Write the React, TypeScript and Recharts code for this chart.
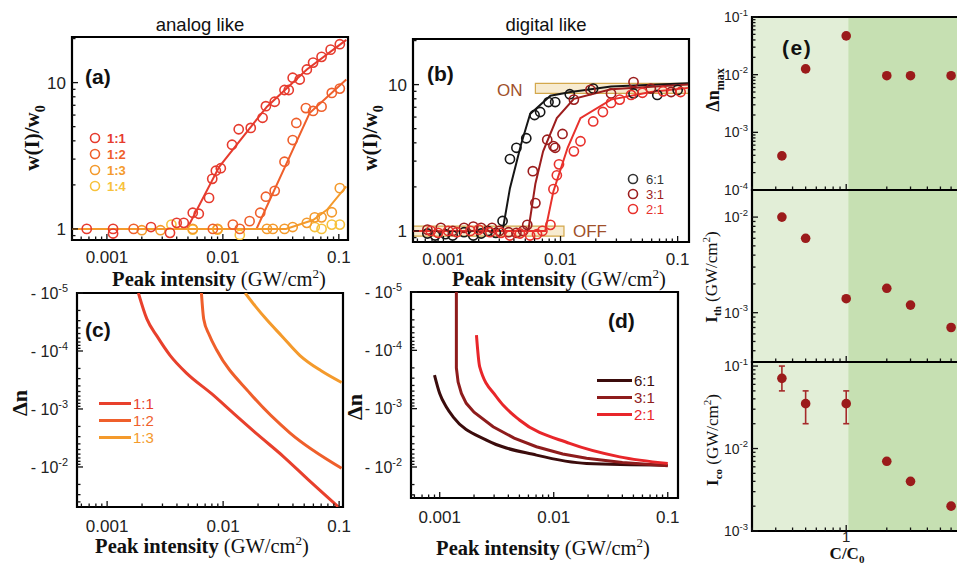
import React from "react";
import { ComposedChart, Line, Scatter, XAxis, YAxis, ReferenceArea, ErrorBar } from "recharts";

const SANS = "'Liberation Sans', Arial, Helvetica, sans-serif";
const SERIF = "'Liberation Serif', 'Times New Roman', serif";

// ---------- (a) analog like : w(I)/w0, open circles = measured, lines = fits
const a11Pts = [
  [0.00067, 1.0], [0.00113, 1.0], [0.00113, 0.93], [0.0024, 1.03], [0.0035, 0.94], [0.004, 1.1],
  [0.0046, 1.1], [0.0055, 1.29], [0.0062, 1.27], [0.0076, 1.63], [0.0081, 2.2], [0.0087, 2.5],
  [0.0096, 2.6], [0.012, 3.76], [0.0137, 4.8], [0.0174, 4.9], [0.022, 5.75], [0.0235, 6.9],
  [0.028, 7.4], [0.034, 8.9], [0.037, 8.9], [0.04, 10.8], [0.046, 10.5], [0.053, 12.3],
  [0.06, 13.7], [0.071, 15], [0.085, 16.8], [0.102, 18.3],
];
const a12Pts = [
  [0.0017, 1.0], [0.0082, 1.0], [0.0122, 1.07], [0.014, 1.0], [0.017, 1.13], [0.021, 1.29],
  [0.0235, 1.66], [0.028, 1.82], [0.034, 2.88], [0.04, 4.05], [0.043, 5.3], [0.052, 6.7],
  [0.06, 6.4], [0.071, 6.85], [0.087, 8.5], [0.102, 9.1],
];
const a13Pts = [
  [0.002, 0.98], [0.0029, 0.98], [0.0055, 1.0], [0.009, 1.0], [0.024, 1.0], [0.027, 1.0],
  [0.034, 1.0], [0.04, 1.03], [0.053, 1.1], [0.062, 1.2], [0.071, 1.2], [0.087, 1.3], [0.102, 1.9],
];
const a14Pts = [
  [0.0036, 1.07], [0.0055, 0.99], [0.009, 0.99], [0.014, 0.91], [0.062, 1.03], [0.071, 1.0],
  [0.087, 1.07], [0.102, 1.07],
];
const a11Fit = [[0.0005, 1], [0.0049, 1], [0.0093, 2.66], [0.024, 6.85], [0.053, 12.3], [0.116, 19.6]];
const a12Fit = [[0.0005, 1], [0.0195, 1], [0.056, 6.2], [0.116, 10.5]];
const a13Fit = [[0.0005, 1], [0.035, 1], [0.06, 1.15], [0.079, 1.35], [0.116, 1.95]];

// ---------- (b) digital like
const b61Pts = [
  [0.00073, 0.96], [0.00085, 0.93], [0.00104, 0.95], [0.0012, 0.93], [0.0015, 0.98], [0.0018, 0.93],
  [0.0021, 0.96], [0.0024, 1.0], [0.0028, 0.97], [0.0032, 1.17], [0.0037, 3.1], [0.0042, 3.7],
  [0.0051, 4.3], [0.006, 6.2], [0.0067, 6.5], [0.0079, 7.6], [0.009, 7.6], [0.012, 8.6],
  [0.019, 9.4], [0.042, 8.7], [0.067, 8.5], [0.1, 9.2],
];
const b31Pts = [
  [0.00073, 1.02], [0.00095, 1.05], [0.0012, 1.0], [0.0015, 1.05], [0.0018, 1.07], [0.0021, 1.05],
  [0.0026, 1.05], [0.003, 1.0], [0.0036, 0.98], [0.0042, 0.97], [0.0048, 1.0], [0.0052, 1.1],
  [0.0058, 2.56], [0.0061, 1.55], [0.0077, 4.2], [0.0087, 3.8], [0.009, 3.7], [0.0104, 4.6],
  [0.013, 7.9], [0.018, 9.2], [0.027, 8.7], [0.042, 10.4], [0.059, 9.4], [0.088, 8.9],
];
const b21Pts = [
  [0.00078, 1.0], [0.0009, 0.97], [0.0011, 1.0], [0.0013, 0.98], [0.0017, 1.0], [0.002, 1.02],
  [0.0025, 0.98], [0.0031, 0.97], [0.0037, 0.93], [0.0045, 0.96], [0.0055, 0.93], [0.0063, 0.95],
  [0.007, 1.0], [0.0082, 1.1], [0.0087, 1.93], [0.0093, 2.4], [0.0097, 2.85], [0.013, 3.5],
  [0.0148, 4.1], [0.019, 5.6], [0.023, 6.5], [0.027, 7.5], [0.032, 7.9], [0.04, 8.5],
  [0.05, 8.8], [0.075, 9.0], [0.106, 8.9],
];
const b61Fit = [[0.00055, 1], [0.0032, 1], [0.0037, 1.96], [0.0046, 3.9], [0.0055, 6.3], [0.0082, 8.4], [0.0122, 8.9], [0.027, 9.7], [0.123, 10.2]];
const b31Fit = [[0.00055, 1], [0.0053, 1], [0.0061, 2.1], [0.0071, 3.5], [0.0093, 5.9], [0.013, 8.0], [0.027, 9.3], [0.123, 10]];
const b21Fit = [[0.00055, 1], [0.0074, 1], [0.0087, 1.87], [0.0115, 3.7], [0.0148, 5.9], [0.027, 7.9], [0.059, 8.9], [0.123, 9.5]];
const onBox = { i: [0.0061, 0.125], w: [8.7, 10.2] };
const offBox = { i: [0.00055, 0.0107], w: [0.92, 1.08] };

// ---------- (c) analog like : -Δn
const c11 = [[0.00186, 1e-5], [0.0022, 2.8e-5], [0.0027, 5.6e-5], [0.0035, 1.2e-4], [0.00486, 2.43e-4], [0.008, 5.5e-4], [0.0123, 1.19e-3], [0.02, 2.8e-3], [0.0331, 6.6e-3], [0.055, 0.017], [0.1, 0.05]];
const c12 = [[0.0065, 1e-5], [0.0068, 2.8e-5], [0.0076, 5.3e-5], [0.0088, 9.6e-5], [0.0171, 5.4e-4], [0.0378, 2.6e-3], [0.105, 0.0105]];
const c13 = [[0.0155, 1e-5], [0.019, 1.7e-5], [0.0238, 2.9e-5], [0.032, 5.5e-5], [0.046, 1.2e-4], [0.07, 2.2e-4], [0.105, 3.5e-4]];

// ---------- (d) digital like : -Δn
const d61 = [[0.0009, 2.65e-4], [0.001, 5.5e-4], [0.00114, 9.3e-4], [0.00131, 1.38e-3], [0.00257, 3.47e-3], [0.00705, 6.25e-3], [0.0194, 8.7e-3], [0.1, 9.3e-3]];
const d31 = [[0.0014, 1e-5], [0.0014, 2e-4], [0.00145, 3.5e-4], [0.00155, 5.5e-4], [0.00171, 8.1e-4], [0.002, 1.15e-3], [0.00294, 2.04e-3], [0.0045, 3.2e-3], [0.00705, 4.5e-3], [0.012, 6e-3], [0.0194, 7.1e-3], [0.04, 8.4e-3], [0.1, 9.5e-3]];
const d21 = [[0.0021, 5.5e-5], [0.00224, 1.9e-4], [0.00314, 6.25e-4], [0.00504, 1.58e-3], [0.0138, 3.94e-3], [0.0379, 6.7e-3], [0.1, 8.7e-3]];

// ---------- (e) versus C/C0
const ratios = [1 / 3, 1 / 2, 1, 2, 3, 6];
const dnMax = [3.9e-4, 0.0126, 0.047, 0.0096, 0.0096, 0.0096];
const iTh = [0.01, 0.006, 0.0014, 0.0018, 0.0012, 0.0007];
const iCo = [0.071, 0.035, 0.035, 0.007, 0.004, 0.002];
const iCoLow = [0.05, 0.02, 0.02];
const iCoHigh = [0.1, 0.05, 0.05];
const eTickLabels = [1];

const pts = (a: number[][]) => a.map(([x, y]) => ({ x, y }));

const logTicks = (lo: number, hi: number) => {
  const out: number[] = [];
  for (let e = Math.floor(Math.log10(lo)); e <= Math.ceil(Math.log10(hi)); e++)
    for (let k = 1; k < 10; k++) {
      const v = +(k * Math.pow(10, e)).toPrecision(6);
      if (v >= lo * 0.9999 && v <= hi * 1.0001) out.push(v);
    }
  return out;
};
const isDecade = (v: number) => Math.abs(Math.log10(v) - Math.round(Math.log10(v))) < 1e-6;

const fmtDec = (v: number) => String(v);
const fmtOnly = (list: number[]) => (v: number) => (list.includes(v) ? String(v) : null);
const fmtPow = (prefix: string, fs: number) => (v: number) => (
  <>
    {prefix}10<tspan dy={-fs * 0.45} fontSize={fs * 0.68}>{Math.round(Math.log10(v))}</tspan>
  </>
);

const makeTick = (side: "bottom" | "left", fmt: ((v: number) => React.ReactNode) | null, fs: number, gap: number) =>
  (props: any) => {
    const { x, y, payload } = props;
    const v = Number(payload.value);
    const major = isDecade(v);
    const len = major ? 6 : 3.5;
    const label = major && fmt ? fmt(v) : null;
    if (side === "bottom") {
      return (
        <g>
          <line x1={x} x2={x} y1={y} y2={y - len} stroke="#111" strokeWidth={1.3} />
          {label !== null && (
            <text x={x} y={y + gap} textAnchor="middle" fontSize={fs} fontFamily={SANS} fill="#222">{label}</text>
          )}
        </g>
      );
    }
    return (
      <g>
        <line x1={x} x2={x + len} y1={y} y2={y} stroke="#111" strokeWidth={1.3} />
        {label !== null && (
          <text x={x - gap} y={y} dy="0.36em" textAnchor="end" fontSize={fs} fontFamily={SANS} fill="#222">{label}</text>
        )}
      </g>
    );
  };

const ring = (c: string, r = 4.6) => (p: any) => (
  <circle cx={p.cx} cy={p.cy} r={r} fill="none" stroke={c} strokeWidth={1.6} />
);
const dot = (c: string, r = 4.8) => (p: any) => <circle cx={p.cx} cy={p.cy} r={r} fill={c} />;

const axisCommon = {
  type: "number" as const,
  scale: "log" as const,
  allowDataOverflow: true,
  interval: 0 as const,
  tickSize: 0,
  tickMargin: 0,
  axisLine: false,
  tickLine: false,
};

const Txt = ({ x, y, rot, style, children }: any) => (
  <div
    style={{
      position: "absolute", left: x, top: y, whiteSpace: "nowrap", lineHeight: 1,
      transform: `translate(-50%, -50%)${rot ? " rotate(-90deg)" : ""}`, ...style,
    }}
  >
    {children}
  </div>
);

const PeakLabel = ({ x, y }: { x: number; y: number }) => (
  <Txt x={x} y={y} style={{ fontFamily: SERIF, fontSize: 20.5, color: "#111" }}>
    <b>Peak intensity</b> (GW/cm<sup style={{ fontSize: 13 }}>2</sup>)
  </Txt>
);

const C = {
  a11: "#e63b2e", a12: "#ef5f2b", a13: "#f49a2c", a14: "#f7c23b",
  b61: "#161616", b31: "#9c1d1d", b21: "#e8312c",
  d61: "#3b0c0c", d31: "#8e1c1c", d21: "#e8262a",
  e: "#9b1b1b", eBar: "#a52a2a", lightG: "#e2eed7", darkG: "#c6e0b2", brown: "#a0502a",
};

const A_X = [0.0005, 0.12], A_Y = [0.84, 20.5];
const B_X = [0.00055, 0.125], B_Y = [0.84, 20.5];
const C_X = [0.00055, 0.108], C_Y = [1e-5, 0.049];
const D_X = [0.00056, 0.123], D_Y = [1e-5, 0.034];
const E_X = [0.2, 10];

const Frame = ({ x, y }: { x: number[]; y: number[] }) => (
  <ReferenceArea x1={x[0]} x2={x[1]} y1={y[0]} y2={y[1]} fill="none" stroke="#000" strokeWidth={2.2} ifOverflow="visible" />
);

function WPanel({ left, xd, yd, yW, margin, children }: any) {
  return (
    <div style={{ position: "absolute", left, top: 0 }}>
      <ComposedChart width={350 + (left === 0 ? 10 : 0)} height={290} margin={margin}>
        <XAxis dataKey="x" {...axisCommon} domain={xd} ticks={logTicks(xd[0], xd[1])} height={30}
          tick={makeTick("bottom", fmtDec, 17, 23)} />
        <YAxis dataKey="y" {...axisCommon} domain={yd} ticks={logTicks(yd[0], yd[1])} width={yW}
          tick={makeTick("left", fmtDec, 17, 6)} />
        {children}
        <Frame x={xd} y={yd} />
      </ComposedChart>
    </div>
  );
}

function DnPanel({ left, width, xd, yd, yW, margin, children }: any) {
  return (
    <div style={{ position: "absolute", left, top: 270 }}>
      <ComposedChart width={width} height={295} margin={margin}>
        <XAxis dataKey="x" {...axisCommon} domain={xd} ticks={logTicks(xd[0], xd[1])} height={30}
          tick={makeTick("bottom", fmtDec, 17, 25)} />
        <YAxis dataKey="y" {...axisCommon} reversed domain={yd} ticks={logTicks(yd[0], yd[1])} width={yW}
          tick={makeTick("left", fmtPow("- ", 16), 16, 9)} />
        {children}
        <Frame x={xd} y={yd} />
      </ComposedChart>
    </div>
  );
}

function EPanel({ top, height, margin, yd, xH, showX, children }: any) {
  return (
    <div style={{ position: "absolute", left: 690, top }}>
      <ComposedChart width={301} height={height} margin={margin}>
        <ReferenceArea x1={E_X[0]} x2={1.035} y1={yd[0]} y2={yd[1]} fill={C.lightG} fillOpacity={1} stroke="none" />
        <ReferenceArea x1={1.035} x2={E_X[1]} y1={yd[0]} y2={yd[1]} fill={C.darkG} fillOpacity={1} stroke="none" />
        <XAxis dataKey="x" {...axisCommon} domain={E_X} ticks={logTicks(E_X[0], E_X[1])} height={xH}
          tick={makeTick("bottom", showX ? fmtOnly(eTickLabels) : null, 15, 11)} />
        <YAxis dataKey="y" {...axisCommon} domain={yd} ticks={logTicks(yd[0], yd[1])} width={62}
          tick={makeTick("left", fmtPow("", 14), 14, 4)} />
        {children}
        <Frame x={E_X} y={yd} />
      </ComposedChart>
    </div>
  );
}

const RingLegend = ({ items, x, bold, fs }: any) => (
  <>
    {items.map((it: any) => (
      <div key={it.t} style={{ position: "absolute", left: x - 6, top: it.y - 6, display: "flex", alignItems: "center", height: 12, lineHeight: 1 }}>
        <svg width={12} height={12} style={{ overflow: "visible" }}>
          <circle cx={6} cy={6} r={4.5} fill="none" stroke={it.c} strokeWidth={1.6} />
        </svg>
        <span style={{ marginLeft: bold ? 6 : 7, fontFamily: SANS, fontSize: fs, lineHeight: 1, fontWeight: bold ? 700 : 400, color: it.c }}>{it.t}</span>
      </div>
    ))}
  </>
);

const LineLegend = ({ items, x, w }: any) => (
  <>
    {items.map((it: any) => (
      <div key={it.t} style={{ position: "absolute", left: x, top: it.y - 7, display: "flex", alignItems: "center", height: 14, lineHeight: 1 }}>
        <div style={{ width: w, height: 3, background: it.c }} />
        <span style={{ marginLeft: 2, fontFamily: SANS, fontSize: 15, lineHeight: 1, color: it.c }}>{it.t}</span>
      </div>
    ))}
  </>
);

export default function App() {
  const eTop = ratios.map((r, i) => ({ x: r, y: dnMax[i] }));
  const eMid = ratios.map((r, i) => ({ x: r, y: iTh[i] }));
  const eBotErr = iCoLow.map((lo, i) => ({ x: ratios[i], y: iCo[i], err: [iCo[i] - lo, iCoHigh[i] - iCo[i]] }));
  const eBot = ratios.slice(iCoLow.length).map((r, i) => ({ x: r, y: iCo[i + iCoLow.length] }));
  const panelLabel = { fontFamily: SANS, fontSize: 21, fontWeight: 700, color: "#111" };

  return (
    <div style={{ position: "absolute", left: 0, top: 0, width: 957, height: 565, overflow: "hidden", background: "#fff" }}>
      <style>{"svg{overflow:visible}"}</style>

      {/* (a) */}
      <WPanel left={0} xd={A_X} yd={A_Y} yW={62} margin={{ top: 37, right: 12, bottom: 20, left: 10 }}>
        <Line data={pts(a11Fit)} dataKey="y" type="linear" stroke={C.a11} strokeWidth={2} dot={false} isAnimationActive={false} />
        <Line data={pts(a12Fit)} dataKey="y" type="linear" stroke={C.a12} strokeWidth={2} dot={false} isAnimationActive={false} />
        <Line data={pts(a13Fit)} dataKey="y" type="linear" stroke={C.a13} strokeWidth={2} dot={false} isAnimationActive={false} />
        <Scatter data={pts(a14Pts)} dataKey="y" shape={ring(C.a14)} isAnimationActive={false} />
        <Scatter data={pts(a13Pts)} dataKey="y" shape={ring(C.a13)} isAnimationActive={false} />
        <Scatter data={pts(a12Pts)} dataKey="y" shape={ring(C.a12)} isAnimationActive={false} />
        <Scatter data={pts(a11Pts)} dataKey="y" shape={ring(C.a11)} isAnimationActive={false} />
      </WPanel>

      {/* (b) */}
      <WPanel left={350} xd={B_X} yd={B_Y} yW={63} margin={{ top: 39, right: 11, bottom: 18, left: 0 }}>
        <ReferenceArea x1={onBox.i[0]} x2={onBox.i[1]} y1={onBox.w[0]} y2={onBox.w[1]} fill="#f2deb0" fillOpacity={0.6} stroke="#d3a84c" strokeWidth={1.2} ifOverflow="hidden" />
        <ReferenceArea x1={offBox.i[0]} x2={offBox.i[1]} y1={offBox.w[0]} y2={offBox.w[1]} fill="#f2deb0" fillOpacity={0.6} stroke="#d3a84c" strokeWidth={1.2} ifOverflow="hidden" />
        <Scatter data={pts(b61Pts)} dataKey="y" shape={ring(C.b61)} isAnimationActive={false} />
        <Scatter data={pts(b31Pts)} dataKey="y" shape={ring(C.b31)} isAnimationActive={false} />
        <Scatter data={pts(b21Pts)} dataKey="y" shape={ring(C.b21)} isAnimationActive={false} />
        <Line data={pts(b61Fit)} dataKey="y" type="linear" stroke={C.b61} strokeWidth={2} dot={false} isAnimationActive={false} />
        <Line data={pts(b31Fit)} dataKey="y" type="linear" stroke={C.b31} strokeWidth={2} dot={false} isAnimationActive={false} />
        <Line data={pts(b21Fit)} dataKey="y" type="linear" stroke={C.b21} strokeWidth={2} dot={false} isAnimationActive={false} />
      </WPanel>

      {/* (c) */}
      <DnPanel left={0} width={355} xd={C_X} yd={C_Y} yW={67} margin={{ top: 23, right: 12, bottom: 28, left: 10 }}>
        <Line data={pts(c11)} dataKey="y" type="monotone" stroke="#e8402c" strokeWidth={3} dot={false} isAnimationActive={false} />
        <Line data={pts(c12)} dataKey="y" type="monotone" stroke={C.a12} strokeWidth={3} dot={false} isAnimationActive={false} />
        <Line data={pts(c13)} dataKey="y" type="monotone" stroke={C.a13} strokeWidth={3} dot={false} isAnimationActive={false} />
      </DnPanel>

      {/* (d) */}
      <DnPanel left={350} width={340} xd={D_X} yd={D_Y} yW={61} margin={{ top: 22, right: 12, bottom: 37, left: 0 }}>
        <Line data={pts(d61)} dataKey="y" type="monotone" stroke={C.d61} strokeWidth={3} dot={false} isAnimationActive={false} />
        <Line data={pts(d31)} dataKey="y" type="linear" stroke={C.d31} strokeWidth={3} dot={false} isAnimationActive={false} />
        <Line data={pts(d21)} dataKey="y" type="monotone" stroke={C.d21} strokeWidth={3} dot={false} isAnimationActive={false} />
      </DnPanel>

      {/* (e) */}
      <EPanel top={0} height={195} margin={{ top: 17, right: 10, bottom: 4, left: 0 }} yd={[1e-4, 0.1]} xH={1}>
        <Scatter data={eTop} dataKey="y" shape={dot(C.e)} isAnimationActive={false} />
      </EPanel>
      <EPanel top={185} height={185} margin={{ top: 5, right: 10, bottom: 7, left: 0 }} yd={[3.05e-4, 0.0192]} xH={1}>
        <Scatter data={eMid} dataKey="y" shape={dot(C.e)} isAnimationActive={false} />
      </EPanel>
      <EPanel top={355} height={210} margin={{ top: 7, right: 10, bottom: 14, left: 0 }} yd={[0.001, 0.112]} xH={20} showX>
        <Scatter data={eBotErr} dataKey="y" shape={dot(C.e)} isAnimationActive={false}>
          <ErrorBar dataKey="err" direction="y" width={3} strokeWidth={1.6} stroke={C.eBar} />
        </Scatter>
        <Scatter data={eBot} dataKey="y" shape={dot(C.e)} isAnimationActive={false} />
      </EPanel>

      {/* titles and axis labels */}
      <Txt x={200} y={25} style={{ fontFamily: SANS, fontSize: 18.5, color: "#111" }}>analog like</Txt>
      <Txt x={546} y={25} style={{ fontFamily: SANS, fontSize: 18.5, color: "#111" }}>digital like</Txt>
      <Txt x={35} y={138} rot style={{ fontFamily: SERIF, fontSize: 21, fontWeight: 700, color: "#111" }}>
        w(I)/w<sub style={{ fontSize: 14 }}>0</sub>
      </Txt>
      <Txt x={373} y={138} rot style={{ fontFamily: SERIF, fontSize: 21, fontWeight: 700, color: "#111" }}>
        w(I)/w<sub style={{ fontSize: 14 }}>0</sub>
      </Txt>
      <Txt x={20} y={403} rot style={{ fontFamily: SERIF, fontSize: 22, fontWeight: 700, color: "#111" }}>Δn</Txt>
      <Txt x={355} y={407} rot style={{ fontFamily: SERIF, fontSize: 22, fontWeight: 700, color: "#111" }}>Δn</Txt>
      <PeakLabel x={219} y={278} />
      <PeakLabel x={559} y={278} />
      <PeakLabel x={202} y={545} />
      <PeakLabel x={543} y={547} />

      <Txt x={715} y={90} rot style={{ fontFamily: SERIF, fontSize: 18, fontWeight: 700, color: "#111" }}>
        Δn<sub style={{ fontSize: 12 }}>max</sub>
      </Txt>
      <Txt x={712} y={277} rot style={{ fontFamily: SERIF, fontSize: 17, color: "#111" }}>
        <b>I<sub style={{ fontSize: 11 }}>th</sub></b> (GW/cm<sup style={{ fontSize: 11 }}>2</sup>)
      </Txt>
      <Txt x={713} y={440} rot style={{ fontFamily: SERIF, fontSize: 17, color: "#111" }}>
        <b>I<sub style={{ fontSize: 11 }}>co</sub></b> (GW/cm<sup style={{ fontSize: 11 }}>2</sup>)
      </Txt>
      <Txt x={847} y={555} style={{ fontFamily: SERIF, fontSize: 17, fontWeight: 700, color: "#111" }}>
        C/C<sub style={{ fontSize: 11 }}>0</sub>
      </Txt>

      {/* panel letters */}
      <div style={{ position: "absolute", left: 85, top: 65, ...panelLabel }}>(a)</div>
      <div style={{ position: "absolute", left: 427, top: 62, ...panelLabel }}>(b)</div>
      <div style={{ position: "absolute", left: 85, top: 318, ...panelLabel }}>(c)</div>
      <div style={{ position: "absolute", left: 608, top: 309, ...panelLabel }}>(d)</div>
      <div style={{ position: "absolute", left: 782, top: 36, ...panelLabel, letterSpacing: 1.5 }}>(e)</div>

      {/* ON / OFF */}
      <div style={{ position: "absolute", left: 497, top: 81, fontFamily: SANS, fontSize: 17, color: C.brown }}>ON</div>
      <div style={{ position: "absolute", left: 573, top: 222, fontFamily: SANS, fontSize: 17, color: C.brown }}>OFF</div>

      {/* legends */}
      <RingLegend x={95} bold fs={13} items={[
        { t: "1:1", c: C.a11, y: 138 }, { t: "1:2", c: C.a12, y: 154 },
        { t: "1:3", c: C.a13, y: 170 }, { t: "1:4", c: C.a14, y: 186 },
      ]} />
      <RingLegend x={633} fs={13} items={[
        { t: "6:1", c: "#333", y: 179 }, { t: "3:1", c: C.b31, y: 194 }, { t: "2:1", c: C.b21, y: 209 },
      ]} />
      <LineLegend x={99} w={32} items={[
        { t: "1:1", c: "#e8402c", y: 403 }, { t: "1:2", c: C.a12, y: 420 }, { t: "1:3", c: C.a13, y: 437 },
      ]} />
      <LineLegend x={597} w={35} items={[
        { t: "6:1", c: C.d61, y: 380 }, { t: "3:1", c: C.d31, y: 397 }, { t: "2:1", c: C.d21, y: 414 },
      ]} />
    </div>
  );
}
